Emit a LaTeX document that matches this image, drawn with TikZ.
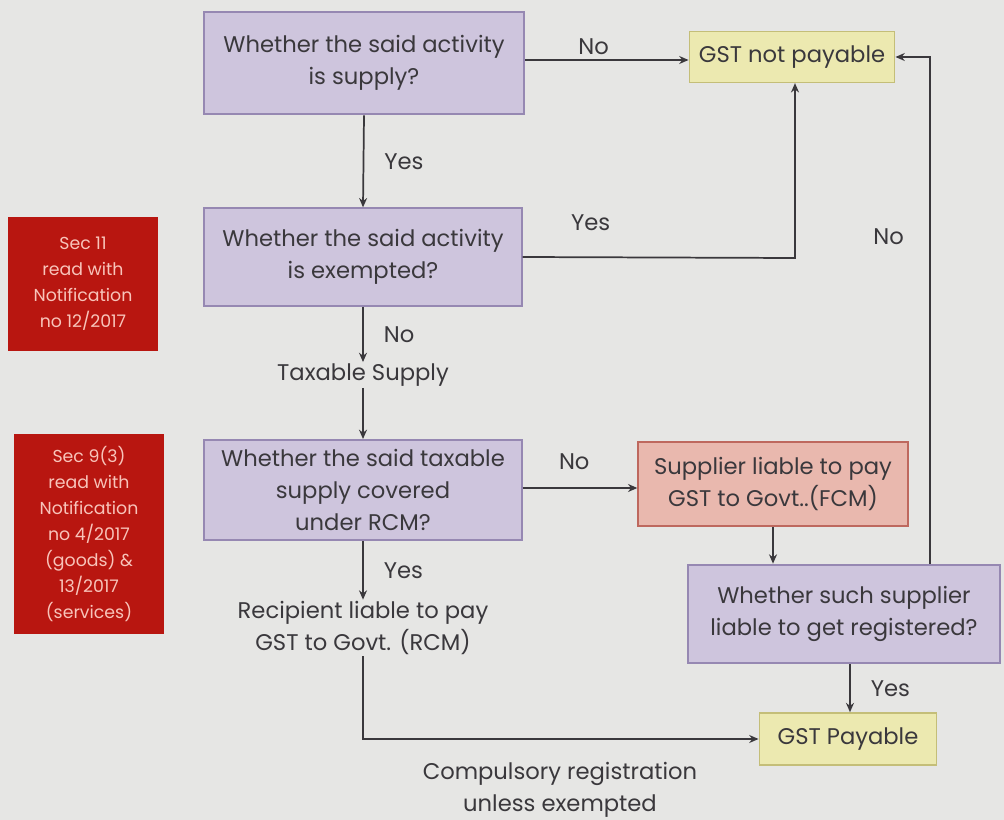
\documentclass[tikz,border=0pt]{standalone}
\usepackage{fontspec}
\setmainfont{Poppins}
\usetikzlibrary{arrows.meta}

\definecolor{bgcol}{RGB}{230,230,228}
\definecolor{inkcol}{RGB}{58,56,60}
\definecolor{qfill}{RGB}{206,197,221}
\definecolor{qdraw}{RGB}{150,136,178}
\definecolor{endfill}{RGB}{236,233,176}
\definecolor{enddraw}{RGB}{196,190,120}
\definecolor{fcmfill}{RGB}{233,184,174}
\definecolor{fcmdraw}{RGB}{190,104,94}
\definecolor{secfill}{RGB}{184,22,16}
\definecolor{sectext}{RGB}{248,196,186}

\tikzset{
  qbox/.style={draw=qdraw, fill=qfill, line width=1.5pt, align=center, text=inkcol, inner sep=0pt},
  endbox/.style={draw=enddraw, fill=endfill, line width=1.2pt, align=center, text=inkcol, inner sep=0pt},
  fcmbox/.style={draw=fcmdraw, fill=fcmfill, line width=1.5pt, align=center, text=inkcol, inner sep=0pt},
  secbox/.style={fill=secfill, align=center, text=sectext, inner sep=0pt, font=\fontsize{13}{19.5}\selectfont},
  lbl/.style={text=inkcol, align=center, inner sep=1pt},
  flow/.style={draw=inkcol, line width=1.3pt, -{Stealth[length=7pt,width=6pt]}}
}

\begin{document}
\begin{tikzpicture}[x=0.75pt,y=0.75pt,yscale=-1,xscale=1, font=\fontsize{17}{24}\selectfont]
% background and frame size
\fill[bgcol] (0,0) rectangle (1004,820);
\useasboundingbox (0,0) rectangle (1004,820);

% questions
\node[qbox, minimum width=240pt, minimum height=77pt] (q1) at (364,63) {Whether the said activity\\is supply?};
\node[qbox, minimum width=238pt, minimum height=73pt] (q2) at (363,257) {Whether the said activity\\is exempted?};
\node[qbox, minimum width=238pt, minimum height=75pt] (q3) at (363,490) {Whether the said taxable\\supply covered\\under RCM?};
\node[fcmbox, minimum width=202pt, minimum height=63pt] (fcm) at (773,484) {Supplier liable to pay\\GST to Govt..(FCM)};
\node[qbox, minimum width=234pt, minimum height=74pt] (q4) at (844,614) {Whether such supplier\\liable to get registered?};

% end results
\node[endbox, minimum width=154pt, minimum height=38pt] (notpay) at (792,57) {GST not payable};
\node[endbox, minimum width=133pt, minimum height=39pt] (pay) at (848,739) {GST Payable};

% plain texts
\node[lbl] (taxable) at (363,375) {Taxable Supply};
\node[lbl] (rcm) at (363,628) {Recipient liable to pay\\GST to Govt. (RCM)};
\node[lbl] (compreg) at (560,790) {Compulsory registration\\unless exempted};

% red notes
\node[secbox, minimum width=112pt, minimum height=100pt] (sec11) at (83,284) {Sec 11\\read with\\Notification\\no 12/2017};
\node[secbox, minimum width=113pt, minimum height=150pt] (sec93) at (89,534) {Sec 9(3)\\read with\\Notification\\no 4/2017\\(goods) \&\\13/2017\\(services)};

% connectors
\draw[flow] (q1.east |- 0,60) -- (notpay.west |- 0,60) node[lbl, pos=0.42, above=2pt] {No};
\draw[flow] (q1.south) -- (q2.north) node[lbl, midway, right=14pt] {Yes};
\draw[flow] (q2.east) -- (795,258) node[lbl, pos=0.25, above=18pt] {Yes} -- (notpay.south -| 795,0);
\draw[flow] (q2.south) -- (taxable.north) node[lbl, midway, right=14pt] {No};
\draw[flow] (taxable.south) -- (q3.north);
\draw[flow] (q3.east |- 0,488) -- (fcm.west |- 0,488) node[lbl, pos=0.45, above=12pt] {No};
\draw[flow] (q3.south) -- (rcm.north) node[lbl, midway, right=14pt] {Yes};
\draw[flow] (fcm.south) -- (q4.north -| fcm.south);
\draw[flow] (q4.north -| 930,0) -- (930,57) node[lbl, pos=0.646, left=18pt] {No} -- (notpay.east |- 0,57);
\draw[flow] (q4.south -| 850,0) -- (pay.north -| 850,0) node[lbl, midway, right=14pt] {Yes};
\draw[flow] (rcm.south) -- (rcm.south |- pay.west) -- (pay.west);

\end{tikzpicture}
\end{document}
